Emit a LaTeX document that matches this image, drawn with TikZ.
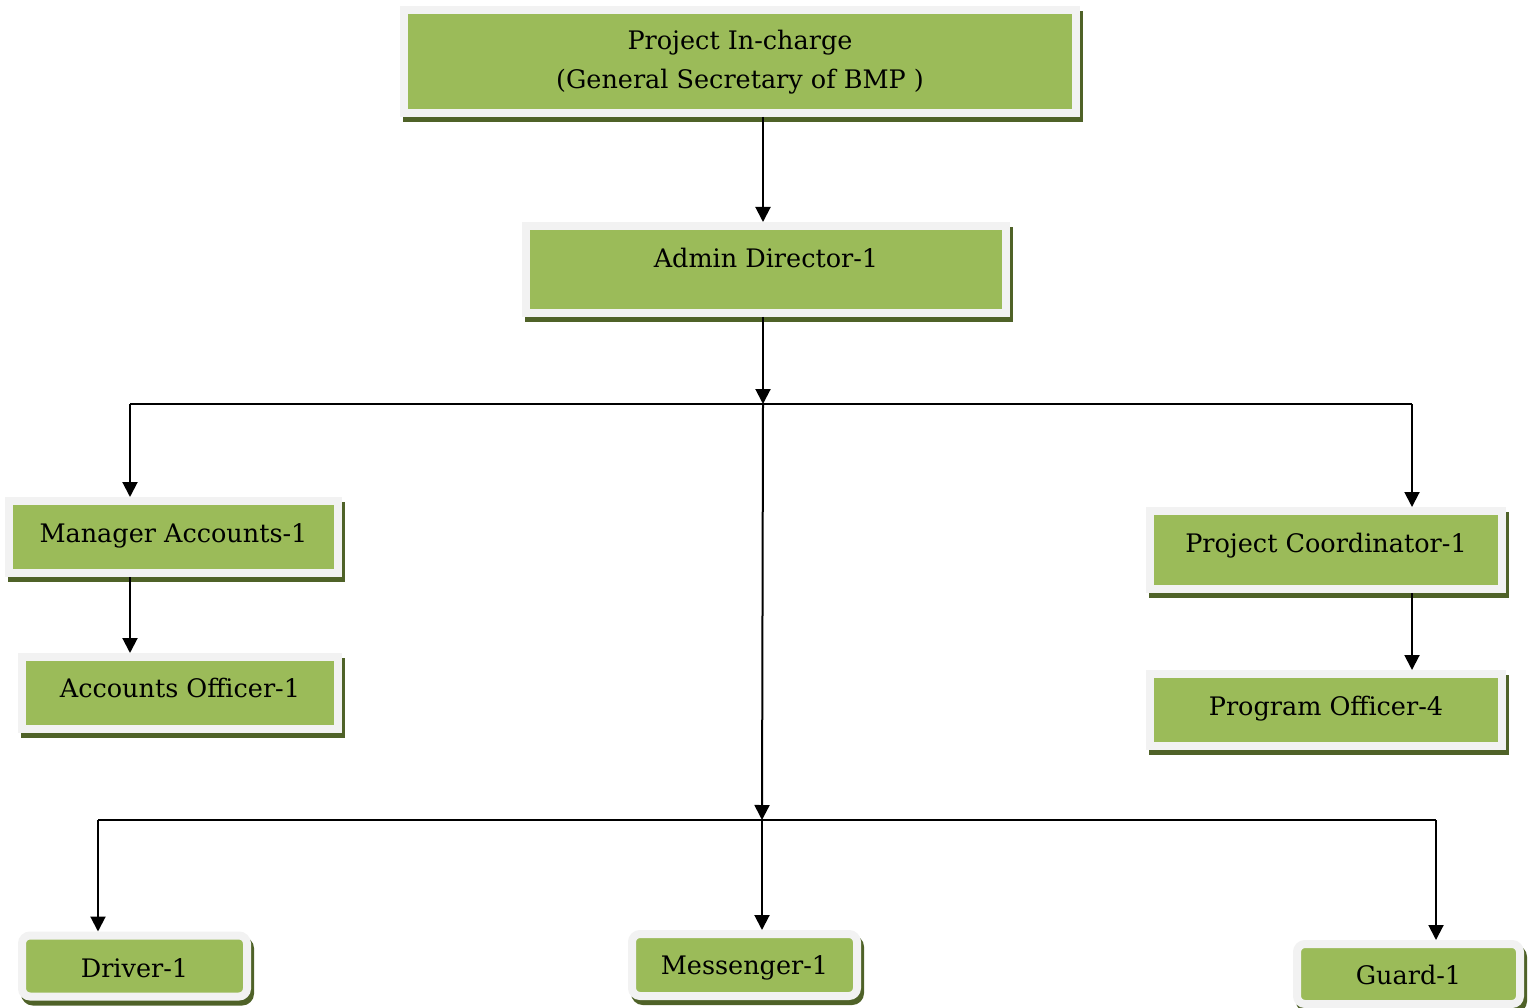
\documentclass[tikz,border=0pt]{standalone}
\usepackage{fontspec}
\setmainfont{DejaVu Serif}
\usetikzlibrary{arrows.meta,shadows}

\definecolor{boxgreen}{HTML}{9BBB59}
\definecolor{boxrim}{HTML}{F2F2F2}
\definecolor{shadowgreen}{HTML}{4F6228}

\tikzset{
  orgbox/.style={
    rectangle, inner sep=0pt, line width=8pt,
    draw=boxrim, fill=boxgreen, text=black,
    font=\fontsize{25.5}{39}\selectfont, align=center,
    text height=18.6pt, text depth=0pt,
    general shadow={shadow xshift=3pt, shadow yshift=-5pt,
                    fill=shadowgreen, draw=shadowgreen, line width=8pt}
  },
  roundbox/.style={orgbox, rounded corners=8pt},
  link/.style={line width=2pt, draw=black},
  arr/.style={link, -{Triangle[length=15pt,width=15pt]}}
}

\begin{document}
\begin{tikzpicture}[x=1pt,y=-1pt]
  \useasboundingbox (0,0) rectangle (1534,1008);

  % boxes
  \node[orgbox, minimum width=672pt, minimum height=103pt, text height=53.6pt]
    (incharge) at (740,61.5) {Project In-charge\\(General Secretary of BMP )};
  \node[orgbox, minimum width=480pt, minimum height=87pt, text depth=23pt]
    (admin) at (766,269.5) {Admin Director-1};
  \node[orgbox, minimum width=329pt, minimum height=72pt, text depth=8pt]
    (mgr) at (173.5,537) {Manager Accounts-1};
  \node[orgbox, minimum width=316pt, minimum height=72pt, text depth=10pt]
    (acc) at (180,693) {Accounts Officer-1};
  \node[orgbox, minimum width=352pt, minimum height=78pt, text depth=14pt]
    (pc) at (1326,550) {Project Coordinator-1};
  \node[orgbox, minimum width=352pt, minimum height=72pt, text depth=8pt]
    (po) at (1326,710) {Program Officer-4};
  \node[roundbox, minimum width=225pt, minimum height=61pt, text height=22.6pt]
    (driver) at (134.5,966) {Driver-1};
  \node[roundbox, minimum width=225pt, minimum height=62pt]
    (mess) at (744.5,965) {Messenger-1};
  \node[roundbox, minimum width=223pt, minimum height=60pt, text height=20.6pt]
    (guard) at (1408.5,974) {Guard-1};

  % junction points of the connector buses
  \coordinate (bus1) at (763,404);
  \coordinate (busL) at (130,404);
  \coordinate (busR) at (1412,404);
  \coordinate (bus2) at (762,820);
  \coordinate (lowL) at (98,820);
  \coordinate (lowR) at (1436,820);

  % connectors
  \draw[arr] (incharge.south -| bus1) -- (admin.north -| bus1);
  \draw[arr] (admin.south -| bus1) -- (bus1);
  \draw[link] (busL) -- (busR);
  \draw[arr] (busL) -- (mgr.north -| busL);
  \draw[arr] (busR) -- (pc.north -| busR);
  \draw[arr] (mgr.south -| busL) -- (acc.north -| busL);
  \draw[arr] (pc.south -| busR) -- (po.north -| busR);
  \draw[arr] (bus1) -- (bus2);
  \draw[link] (lowL) -- (lowR);
  \draw[arr] (lowL) -- (driver.north -| lowL);
  \draw[arr] (bus2) -- (mess.north -| bus2);
  \draw[arr] (lowR) -- (guard.north -| lowR);
\end{tikzpicture}
\end{document}
